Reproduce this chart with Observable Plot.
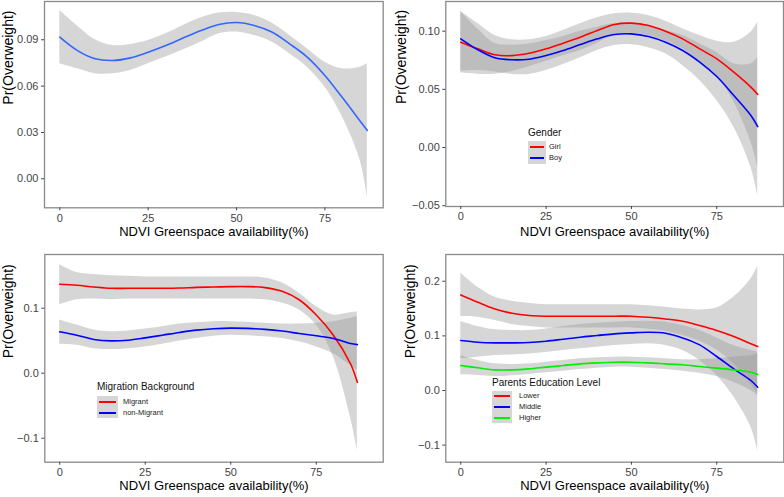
<!DOCTYPE html>
<html><head><meta charset="utf-8">
<script src="https://cdn.jsdelivr.net/npm/d3@7"></script>
<script src="https://cdn.jsdelivr.net/npm/@observablehq/plot@0.6"></script>
<style>
body{margin:0;background:#fff;}
#wrap{position:relative;width:784px;height:497px;font-family:"Liberation Sans",Arial,sans-serif;overflow:hidden;}
.panel{position:absolute;}
.legTitle{position:absolute;font-size:10px;color:#111;white-space:nowrap;line-height:1;}
.legBox{position:absolute;background:#d6d6d6;}
.legLine{position:absolute;height:2px;}
.legLab{position:absolute;font-size:7.5px;color:#222;white-space:nowrap;line-height:1;}
</style></head><body><div id="wrap"></div>
<script>
// ---- data ----
const xs = [0,5,10,15,20,25,30,35,40,45,50,55,60,65,70,75,80,85,87];
const xTicks = [0,25,50,75];
const xTitle = "NDVI Greenspace availability(%)";
const yTitle = "Pr(Overweight)";

// Panel 1: overall
const allFit = [0.0917,0.083,0.0777,0.0766,0.0783,0.082,0.0863,0.0913,0.096,0.0999,0.1012,0.0993,0.095,0.0874,0.0788,0.0669,0.0524,0.0373,0.0313];
const allHi  = [0.109,0.099,0.09,0.0863,0.087,0.0896,0.0939,0.0993,0.1042,0.1073,0.1077,0.1058,0.1008,0.0928,0.0842,0.0755,0.0712,0.0723,0.0745];
const allLo  = [0.0745,0.0712,0.068,0.068,0.0701,0.0745,0.0788,0.0835,0.0885,0.0939,0.095,0.0928,0.0885,0.081,0.0723,0.0594,0.0399,0.0119,-0.0119];

// Panel 2: gender
const genderNames = ["Girl","Boy"];
const girlFit = [0.0905,0.0848,0.0797,0.079,0.081,0.0848,0.0897,0.0948,0.1006,0.1057,0.1069,0.1049,0.100,0.0934,0.0848,0.0762,0.0648,0.0519,0.0456];
const girlHi  = [0.117,0.1066,0.0963,0.0926,0.0926,0.0954,0.1006,0.1063,0.1115,0.1149,0.1155,0.1135,0.1086,0.102,0.0963,0.0914,0.0905,0.0991,0.1077];
const girlLo  = [0.064,0.063,0.063,0.0654,0.0694,0.0742,0.0788,0.0833,0.0897,0.0965,0.0983,0.0963,0.0914,0.0848,0.0733,0.061,0.0391,0.0047,-0.0165];
const boyFit  = [0.0934,0.084,0.0771,0.0754,0.0759,0.0791,0.0834,0.0885,0.0934,0.0971,0.0977,0.0954,0.0905,0.0834,0.0734,0.061,0.0447,0.0275,0.018];
const boyHi   = [0.117,0.1018,0.0894,0.088,0.089,0.092,0.0955,0.0999,0.1034,0.1065,0.1071,0.1051,0.1005,0.0963,0.0892,0.0816,0.0719,0.0719,0.0773];
const boyLo   = [0.0656,0.0662,0.0648,0.0628,0.0628,0.0662,0.0713,0.0771,0.0834,0.0877,0.0883,0.0857,0.0805,0.0705,0.0576,0.0404,0.0175,-0.0169,-0.0413];

// Panel 3: migration background
const migNames = ["Migrant","non-Migrant"];
const migFit = [0.1368,0.1352,0.1326,0.1306,0.1306,0.1306,0.1306,0.131,0.1321,0.1326,0.1332,0.1332,0.1316,0.1259,0.113,0.0896,0.0585,0.0145,-0.014];
const migHi  = [0.167,0.155,0.152,0.150,0.149,0.148,0.148,0.148,0.148,0.148,0.148,0.148,0.1466,0.139,0.123,0.1026,0.0896,0.093,0.094];
const migLo  = [0.105,0.113,0.114,0.113,0.114,0.114,0.114,0.114,0.114,0.114,0.114,0.114,0.113,0.108,0.0974,0.074,0.025,-0.068,-0.118];
const nonFit = [0.0637,0.0585,0.0518,0.0497,0.0508,0.0544,0.0585,0.0627,0.0663,0.0684,0.0694,0.0689,0.0674,0.0648,0.0611,0.0575,0.0534,0.0456,0.044];
const nonHi  = [0.0819,0.074,0.0663,0.0637,0.0648,0.0679,0.0715,0.0756,0.0777,0.0793,0.0793,0.0782,0.0767,0.0756,0.0756,0.0767,0.0793,0.0845,0.087];
const nonLo  = [0.0446,0.043,0.0378,0.0363,0.0378,0.0404,0.0446,0.0497,0.0534,0.057,0.0585,0.0575,0.056,0.0534,0.0482,0.0404,0.03,0.0119,0.004];

// Panel 4: parents education level
const eduNames = ["Lower","Middle","Higher"];
const lowFit = [0.175,0.1616,0.1494,0.1415,0.1372,0.136,0.136,0.136,0.136,0.136,0.136,0.134,0.131,0.1268,0.1189,0.1098,0.0988,0.0854,0.0805];
const lowHi  = [0.2146,0.189,0.1707,0.1634,0.1598,0.157,0.157,0.157,0.157,0.157,0.157,0.155,0.1524,0.149,0.1476,0.151,0.171,0.204,0.227];
const lowLo  = [0.1354,0.134,0.128,0.121,0.117,0.1146,0.1146,0.1146,0.1146,0.1146,0.1146,0.112,0.1085,0.1006,0.09,0.074,0.049,0.012,-0.006];
const midFit = [0.0915,0.0884,0.0872,0.0872,0.0878,0.0902,0.0939,0.0976,0.1006,0.1037,0.1055,0.1067,0.1049,0.0963,0.0835,0.0622,0.0396,0.0183,0.006];
const midHi  = [0.1262,0.117,0.111,0.1098,0.1098,0.1128,0.117,0.1207,0.1232,0.125,0.1262,0.1268,0.125,0.119,0.11,0.0963,0.0823,0.073,0.07];
const midLo  = [0.058,0.061,0.064,0.0652,0.067,0.0695,0.0732,0.0762,0.0793,0.0823,0.0841,0.0854,0.0823,0.0732,0.0549,0.0274,-0.012,-0.067,-0.11];
const higFit = [0.0457,0.0415,0.0378,0.0378,0.0396,0.0427,0.0457,0.0488,0.0506,0.0518,0.0518,0.0506,0.0488,0.047,0.0439,0.0409,0.0378,0.0335,0.0293];
const higHi  = [0.064,0.0549,0.0488,0.0476,0.0488,0.0518,0.0549,0.058,0.0598,0.061,0.061,0.0598,0.058,0.0561,0.0561,0.058,0.061,0.064,0.067];
const higLo  = [0.0287,0.0274,0.0256,0.0268,0.0293,0.0323,0.0354,0.0384,0.0409,0.0427,0.0427,0.0409,0.0384,0.0354,0.0317,0.0256,0.0152,0.0,-0.009];

// ---- drawing ----
const wrap = document.getElementById("wrap");
function rowsOf(name, fit, lo, hi) {
  return xs.map((x, i) => ({x, s: name, fit: fit[i], lo: lo[i], hi: hi[i]}));
}
function panel(o) {
  const marks = [];
  for (const s of o.series) {
    marks.push(Plot.areaY(s.rows, {x: "x", y1: "lo", y2: "hi", fill: "#999", fillOpacity: 0.4, curve: "catmull-rom"}));
  }
  for (const s of o.series) {
    marks.push(Plot.line(s.rows, {x: "x", y: "fit", stroke: s.color, strokeWidth: 1.6, curve: "catmull-rom"}));
  }
  marks.push(Plot.frame({stroke: "#8a8a8a", strokeWidth: 1.3}));
  marks.push(Plot.axisX({ticks: xTicks, tickSize: 3, tickPadding: 3, label: null, fontSize: 11}));
  marks.push(Plot.axisY({ticks: o.yTicks, tickFormat: d3.format(o.yFmt), tickSize: 3, tickPadding: 3, label: null, fontSize: 11}));
  marks.push(Plot.text([xTitle], {text: d => d, frameAnchor: "bottom", dy: o.xdy, fontSize: 13, fill: "#000"}));
  marks.push(Plot.text([yTitle], {text: d => d, frameAnchor: "left", rotate: -90, dx: o.ydx, fontSize: 14, fill: "#000"}));
  const svg = Plot.plot({
    width: o.w, height: o.h,
    marginLeft: o.ml, marginRight: o.mr, marginTop: o.mt, marginBottom: o.mb,
    x: {domain: o.xd},
    y: {domain: o.yd},
    style: {fontFamily: "'Liberation Sans', Arial, sans-serif", fontSize: "11px", color: "#444", background: "transparent", overflow: "visible"},
    marks
  });
  const div = document.createElement("div");
  div.className = "panel";
  div.style.left = o.left + "px";
  div.style.top = o.top + "px";
  div.appendChild(svg);
  wrap.appendChild(div);
}
function legend(o) {
  const t = document.createElement("div");
  t.className = "legTitle"; t.textContent = o.title;
  t.style.left = o.x + "px"; t.style.top = (o.ty - 5) + "px";
  wrap.appendChild(t);
  const b = document.createElement("div");
  b.className = "legBox";
  b.style.left = o.x + "px"; b.style.top = o.by + "px";
  b.style.width = o.bw + "px"; b.style.height = (o.rowH * o.names.length) + "px";
  wrap.appendChild(b);
  o.names.forEach((n, i) => {
    const cy = o.by + o.rowH * (i + 0.5);
    const l = document.createElement("div");
    l.className = "legLine"; l.style.background = o.colors[i];
    l.style.left = (o.x + 2) + "px"; l.style.width = (o.bw - 4) + "px"; l.style.top = (cy - 1) + "px";
    wrap.appendChild(l);
    const lab = document.createElement("div");
    lab.className = "legLab"; lab.textContent = n;
    lab.style.left = o.lx + "px"; lab.style.top = (cy - 4) + "px";
    wrap.appendChild(lab);
  });
}

panel({left: 0, top: 0, w: 392, h: 250, ml: 44, mr: 9.3, mt: 1, mb: 42.7,
  xd: [-4.33, 91.5], yd: [-0.0188, 0.1148], yTicks: [0, 0.03, 0.06, 0.09], yFmt: ".2f",
  xdy: 28, ydx: -36,
  series: [{color: "#3366ff", rows: rowsOf("All", allFit, allLo, allHi)}]});

const gColors = ["#ff0000", "#0000ff"];
panel({left: 392, top: 0, w: 392, h: 250, ml: 53.3, mr: 1, mt: 1, mb: 44,
  xd: [-4.39, 94.55], yd: [-0.0507, 0.1255], yTicks: [-0.05, 0, 0.05, 0.10], yFmt: ".2f",
  xdy: 29, ydx: -44,
  series: [
    {color: gColors[0], rows: rowsOf(genderNames[0], girlFit, girlLo, girlHi)},
    {color: gColors[1], rows: rowsOf(genderNames[1], boyFit, boyLo, boyHi)}]});

const mColors = ["#ff0000", "#0000ff"];
panel({left: 0, top: 250, w: 392, h: 247, ml: 44.3, mr: 9.3, mt: 4, mb: 35.3,
  xd: [-4.36, 94.56], yd: [-0.1369, 0.1826], yTicks: [-0.1, 0, 0.1], yFmt: ".1f",
  xdy: 27.6, ydx: -36,
  series: [
    {color: mColors[0], rows: rowsOf(migNames[0], migFit, migLo, migHi)},
    {color: mColors[1], rows: rowsOf(migNames[1], nonFit, nonLo, nonHi)}]});

const eColors = ["#ff0000", "#0000ff", "#00ee00"];
panel({left: 392, top: 250, w: 392, h: 247, ml: 53.3, mr: 0.7, mt: 4, mb: 35.3,
  xd: [-4.39, 94.65], yd: [-0.1313, 0.249], yTicks: [-0.1, 0, 0.1, 0.2], yFmt: ".1f",
  xdy: 27.6, ydx: -35.6,
  series: [
    {color: eColors[0], rows: rowsOf(eduNames[0], lowFit, lowLo, lowHi)},
    {color: eColors[1], rows: rowsOf(eduNames[1], midFit, midLo, midHi)},
    {color: eColors[2], rows: rowsOf(eduNames[2], higFit, higLo, higHi)}]});

legend({title: "Gender", names: genderNames, colors: gColors, x: 528, ty: 133, by: 141, bw: 18, rowH: 11.5, lx: 549});
legend({title: "Migration Background", names: migNames, colors: mColors, x: 97, ty: 387, by: 396, bw: 21, rowH: 11, lx: 123});
legend({title: "Parents Education Level", names: eduNames, colors: eColors, x: 492, ty: 383, by: 391, bw: 20, rowH: 10.7, lx: 519});
</script>
</body></html>
